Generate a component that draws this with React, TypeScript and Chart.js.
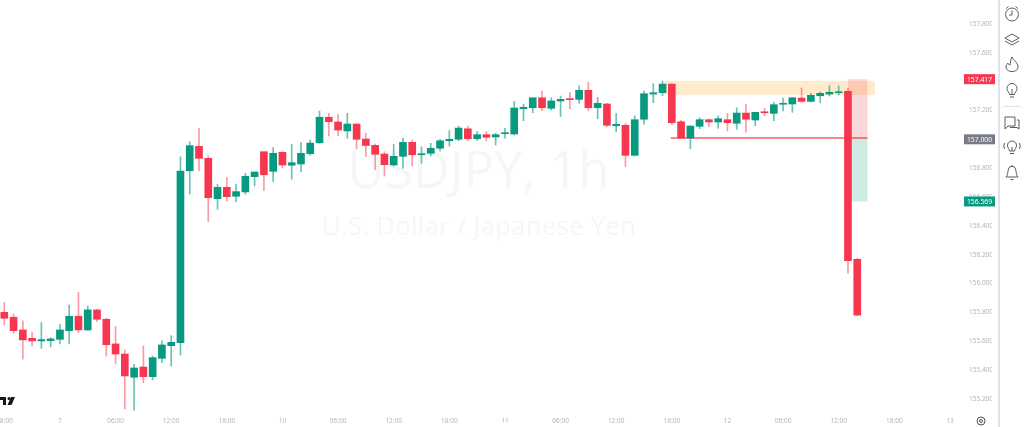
import React, { useEffect, useRef } from "react";
import { Chart, registerables } from "chart.js";

Chart.register(...registerables);

const opens = [155.800,155.766,155.678,155.620,155.602,155.604,155.613,155.673,155.773,155.678,155.817,155.752,155.581,155.511,155.350,155.421,155.354,155.481,155.569,155.589,156.782,156.951,156.868,156.588,156.667,156.605,156.635,156.741,156.914,156.778,156.910,156.820,156.829,156.900,156.976,157.153,157.120,157.058,157.106,157.002,156.958,156.898,156.822,156.882,156.979,156.893,156.903,156.938,156.990,157.000,157.073,157.004,157.032,157.016,157.039,157.037,157.212,157.219,157.288,157.215,157.266,157.279,157.277,157.340,157.219,157.245,157.094,157.097,156.889,157.139,157.314,157.323,157.383,157.122,157.009,157.090,157.136,157.120,157.136,157.111,157.182,157.134,157.189,157.180,157.243,157.245,157.286,157.263,157.302,157.314,157.323,157.333,156.168];
const highs = [155.870,155.789,155.742,155.662,155.731,155.625,155.717,155.851,155.939,155.844,155.823,155.759,155.701,155.539,155.440,155.567,155.498,155.602,155.638,156.879,156.983,157.076,156.884,156.688,156.736,156.690,156.764,156.773,156.914,156.942,156.914,156.965,156.979,156.995,157.196,157.180,157.171,157.180,157.106,157.042,156.967,156.914,156.965,157.009,156.995,156.949,156.972,157.000,157.060,157.092,157.092,157.053,157.053,157.042,157.076,157.263,157.243,157.288,157.335,157.288,157.300,157.326,157.370,157.395,157.291,157.250,157.180,157.111,157.162,157.335,157.386,157.404,157.383,157.134,157.092,157.150,157.141,157.162,157.180,157.219,157.243,157.187,157.215,157.257,157.286,157.291,157.356,157.319,157.328,157.372,157.370,157.356,156.175];
const lows = [155.712,155.655,155.475,155.567,155.551,155.560,155.581,155.581,155.659,155.673,155.735,155.498,155.442,155.130,155.121,155.312,155.331,155.451,155.428,155.504,156.621,156.782,156.429,156.515,156.572,156.565,156.619,156.676,156.644,156.706,156.803,156.723,156.775,156.889,156.972,157.023,157.025,157.007,156.933,156.879,156.787,156.745,156.815,156.799,156.815,156.834,156.884,156.919,156.953,156.990,156.990,156.990,156.990,156.960,157.007,157.030,157.129,157.184,157.198,157.203,157.157,157.210,157.250,157.198,157.143,157.087,157.053,156.810,156.884,157.104,157.254,157.302,157.101,157.009,156.935,157.073,157.087,157.076,157.058,157.069,157.049,157.094,157.164,157.129,157.196,157.187,157.257,157.259,157.252,157.300,157.307,156.071,155.777];
const closes = [155.759,155.673,155.609,155.602,155.611,155.616,155.678,155.773,155.678,155.817,155.752,155.576,155.511,155.359,155.414,155.354,155.486,155.574,155.592,156.780,156.956,156.868,156.595,156.667,156.602,156.637,156.743,156.773,156.754,156.903,156.822,156.838,156.903,156.974,157.153,157.122,157.064,157.106,157.000,156.957,156.896,156.824,156.882,156.979,156.893,156.900,156.938,156.990,157.000,157.078,157.004,157.032,157.014,157.032,157.044,157.217,157.222,157.288,157.219,157.266,157.277,157.275,157.340,157.219,157.250,157.097,157.104,156.889,157.136,157.316,157.323,157.383,157.115,157.009,157.092,157.136,157.120,157.143,157.115,157.182,157.139,157.187,157.184,157.240,157.247,157.288,157.263,157.305,157.319,157.326,157.330,156.158,155.781];

const timeTickIndexes = [0,6,12,18,24,30,36,42,48,54,60,66,72,78,84,90,96,102];
const timeTickLabels = ["18:00","7","06:00","12:00","18:00","10","06:00","12:00","18:00","11","06:00","12:00","18:00","12","06:00","12:00","18:00","13"];
const priceTicks = [155.2,155.4,155.6,155.8,156.0,156.2,156.4,156.6,156.8,157.0,157.2,157.4,157.6,157.8];

const supplyZone = { fromIndex: 71.2, toIndex: 93.9, top: 157.405, bottom: 157.308 };
const tradeBox = { fromIndex: 91, toIndex: 93.1, entry: 157.009, stop: 157.417, target: 156.569 };
const entryLineStart = 72;
const priceTags = [
  { value: 157.417, text: "157.417", color: "#f7374f" },
  { value: 157.0, text: "157.000", color: "#787b86" },
  { value: 156.569, text: "156.569", color: "#089981" },
];

const GREEN = "#089981";
const RED = "#f7374f";
const FONT = '"Noto Sans", sans-serif';

const overlayPlugin = {
  id: "overlay",
  beforeDatasetsDraw(chart: any) {
    const { ctx, scales } = chart;
    const x = scales.x, y = scales.y;
    ctx.save();
    ctx.fillStyle = "#f5f7f7";
    ctx.textAlign = "center";
    ctx.textBaseline = "alphabetic";
    ctx.font = `51px "Open Sans", sans-serif`;
    ctx.fillText("USDJPY, 1h", 478.5, 188);
    ctx.font = `26px "Open Sans", sans-serif`;
    ctx.letterSpacing = "0.15px";
    ctx.fillText("U.S. Dollar / Japanese Yen", 479, 235);
    ctx.letterSpacing = "0px";

    const xl = x.getPixelForValue(tradeBox.fromIndex), xr = x.getPixelForValue(tradeBox.toIndex);
    const yE = y.getPixelForValue(tradeBox.entry);
    ctx.fillStyle = "rgba(242,54,69,0.2)";
    ctx.fillRect(xl, y.getPixelForValue(tradeBox.stop), xr - xl, yE - y.getPixelForValue(tradeBox.stop));
    ctx.fillStyle = "rgba(8,153,129,0.2)";
    ctx.fillRect(xl, yE, xr - xl, y.getPixelForValue(tradeBox.target) - yE);

    const zl = x.getPixelForValue(supplyZone.fromIndex), zr = x.getPixelForValue(supplyZone.toIndex);
    const zt = y.getPixelForValue(supplyZone.top);
    ctx.fillStyle = "rgba(255,152,0,0.2)";
    ctx.fillRect(zl, zt, zr - zl, y.getPixelForValue(supplyZone.bottom) - zt);

    ctx.strokeStyle = "rgba(242,54,69,0.6)";
    ctx.lineWidth = 2;
    ctx.beginPath();
    ctx.moveTo(x.getPixelForValue(entryLineStart) - 1, yE);
    ctx.lineTo(xr, yE);
    ctx.stroke();
    ctx.restore();
  },
  afterDraw(chart: any) {
    const { ctx, scales } = chart;
    const y = scales.y;
    ctx.save();
    ctx.font = `6.8px ${FONT}`;
    ctx.textAlign = "center";
    ctx.textBaseline = "middle";
    for (const tag of priceTags) {
      const py = y.getPixelForValue(tag.value);
      ctx.fillStyle = tag.color;
      ctx.fillRect(964, py - 5, 31, 10);
      ctx.fillStyle = "#ffffff";
      ctx.fillText(tag.text, 979.5, py + 0.5);
    }
    ctx.restore();
  },
};

function Icon({ top, children }: { top: number; children: React.ReactNode }) {
  return (
    <svg width="20" height="20" viewBox="0 0 20 20" fill="none" stroke="#555a66" strokeWidth="1"
      style={{ position: "absolute", left: 1002, top: top - 10 }}>
      {children}
    </svg>
  );
}

export default function App() {
  const ref = useRef<HTMLCanvasElement>(null);
  useEffect(() => {
    const indexes = opens.map((_, i) => i);
    const colors = indexes.map((i) => (closes[i] >= opens[i] ? GREEN : RED));
    const chart = new Chart(ref.current!, {
      type: "bar",
      data: {
        datasets: [
          {
            label: "wick",
            data: indexes.map((i) => ({ x: i, y: [lows[i], highs[i]] })) as any,
            backgroundColor: indexes.map((i) => (closes[i] >= opens[i] ? "rgba(8,153,129,0.6)" : "rgba(247,55,79,0.5)")),
            barThickness: 1,
            order: 2,
          },
          {
            label: "body",
            data: indexes.map((i) => ({ x: i, y: [opens[i], closes[i]] })) as any,
            backgroundColor: colors,
            barThickness: 7,
            minBarLength: 1,
            order: 1,
          },
        ],
      },
      options: {
        responsive: false,
        animation: false,
        parsing: { xAxisKey: "x", yAxisKey: "y" } as any,
        layout: { padding: { left: 0, top: 0, bottom: 0, right: 32 } },
        plugins: { legend: { display: false }, tooltip: { enabled: false } },
        datasets: { bar: { grouped: false } } as any,
        scales: {
          x: {
            type: "linear",
            offset: false,
            min: -0.464,
            max: 103.3,
            grid: { display: false, drawTicks: false, offset: false },
            border: { display: false },
            ticks: {
              autoSkip: false,
              maxRotation: 0,
              padding: 5,
              color: "#b2b5be",
              font: { family: FONT, size: 6.5 },
              callback: (v: any) => {
                const k = timeTickIndexes.indexOf(v);
                return k >= 0 ? timeTickLabels[k] : "";
              },
            },
            afterBuildTicks: (s: any) => {
              s.ticks = timeTickIndexes.map((value) => ({ value }));
            },
            afterFit: (s: any) => {
              s.height = 15;
              s.paddingLeft = 0;
              s.paddingRight = 0;
            },
          },
          y: {
            type: "linear",
            position: "right",
            min: 155.109,
            max: 157.966,
            grid: { display: false, drawTicks: false },
            border: { display: false },
            ticks: {
              padding: 7,
              color: "#b2b5be",
              font: { family: FONT, size: 6.5 },
              callback: (v: any) => Number(v).toFixed(3),
            },
            afterBuildTicks: (s: any) => {
              s.ticks = priceTicks.map((value) => ({ value }));
            },
            afterFit: (s: any) => {
              s.width = 30;
              s.paddingTop = 0;
              s.paddingBottom = 0;
            },
          },
        },
      },
      plugins: [overlayPlugin],
    } as any);
    return () => chart.destroy();
  }, []);

  return (
    <div style={{ position: "fixed", left: 0, top: 0, width: 1024, height: 427, overflow: "hidden", background: "#fff" }}>
      <canvas ref={ref} width={1024} height={427} style={{ display: "block", position: "absolute", left: 0, top: 0 }} />
      <div style={{ position: "absolute", left: 998, top: 0, width: 2, height: 427, background: "#e0e3eb" }} />
      <div style={{ position: "absolute", left: 1003, top: 106, width: 18, height: 1, background: "#e0e3eb" }} />
      <Icon top={14}>
        <circle cx="10" cy="10.5" r="6.5" /><path d="M10 6.5v4.5h-3M4 4.5l2.5-2M16 4.5l-2.5-2" />
      </Icon>
      <Icon top={40}>
        <path d="M10 4l7 4-7 4-7-4z" /><path d="M3 11l7 4 7-4" />
      </Icon>
      <Icon top={64}>
        <path d="M10 3c1 3 6 5 6 10 0 3-3 4.5-6 4.5S4 16 4 13c0-2 1-3 2-4 0 1 1 2 2 2 1-2 0-5 2-8z" />
      </Icon>
      <Icon top={90}>
        <path d="M7.5 14.5c0-2-2.5-3-2.500-6a5 5 0 0 1 10 0c0 3-2.500 4-2.500 6zM8 17h4M10 14V9" />
      </Icon>
      <Icon top={123}>
        <path d="M3 4h10v9H6l-3 3zM15 7h2v9l-2-1.500H8" />
      </Icon>
      <Icon top={147}>
        <path d="M7.500 14c0-2-2-3-2-5.500a4.500 4.500 0 0 1 9 0c0 2.500-2 3.500-2 5.500zM8 16.500h4M10 14v-4M2.500 6Q1 9 2.500 12M17.500 6Q19 9 17.500 12" />
      </Icon>
      <Icon top={172}>
        <path d="M4 15c2-2 1.500-5 2.500-8a3.600 3.600 0 0 1 7 0c1 3 .5 6 2.500 8zM8.500 17.500h3M10 3v1" />
      </Icon>
      <svg width="12" height="12" viewBox="0 0 12 12" fill="none" stroke="#4c525e" strokeWidth="1" style={{ position: "absolute", left: 975, top: 415 }}>
        <circle cx="6" cy="6" r="4" /><circle cx="6" cy="6" r="1.500" />
      </svg>
      <svg width="16" height="9" viewBox="0 0 16 9" style={{ position: "absolute", left: 0, top: 397 }}>
        <path d="M0 0h6v8H3V3H0z" fill="#131722" /><circle cx="9" cy="1.500" r="1.500" fill="#131722" /><path d="M11 0h4l-3.500 8H7.500z" fill="#131722" />
      </svg>
    </div>
  );
}
